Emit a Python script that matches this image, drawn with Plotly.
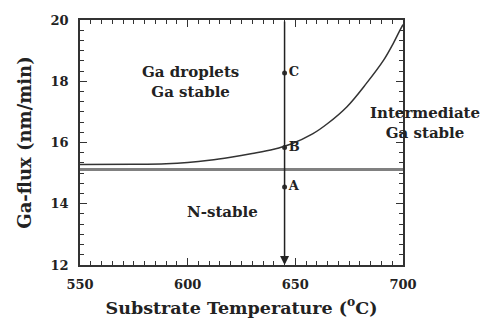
import plotly.graph_objects as go

# Boundary curve (Ga droplets / intermediate)
curve_T = [550, 575, 590, 600, 610, 620, 630, 640, 648, 658, 665, 674, 683, 691, 695.5, 698.6, 700]
curve_flux = [15.28, 15.29, 15.31, 15.35, 15.42, 15.52, 15.64, 15.78, 15.95, 16.28, 16.62, 17.17, 17.93, 18.69, 19.24, 19.67, 19.85]

# N-stable boundary (horizontal)
hline_T = [550, 700]
hline_flux = [15.12, 15.12]

# Sample points
pt_labels = ["A", "B", "C"]
pt_T = [645, 645, 645]
pt_flux = [14.55, 15.84, 18.27]

arrow_T = 645
arrow_top = 20
arrow_bottom = 12

region_labels = ["Ga droplets<br>Ga stable", "Intermediate<br>Ga stable", "N-stable"]
region_T = [601.5, 710, 616]
region_flux = [17.96, 16.63, 13.72]

x_ticks = [550, 600, 650, 700]
y_ticks = [12, 14, 16, 18, 20]

X_RANGE = [550, 700]
Y_RANGE = [12, 20]

FONT = "DejaVu Serif"

fig = go.Figure()
fig.add_trace(go.Scatter(x=hline_T, y=hline_flux, mode="lines",
                         line=dict(color="#808080", width=3), showlegend=False))
fig.add_trace(go.Scatter(x=curve_T, y=curve_flux, mode="lines",
                         line=dict(color="#333333", width=1.5, shape="spline"), showlegend=False))
fig.add_trace(go.Scatter(x=pt_T, y=pt_flux, mode="markers+text", text=pt_labels,
                         textposition="middle right",
                         textfont=dict(family=FONT, size=13, color="#222", weight="bold"),
                         marker=dict(color="#333", size=5), showlegend=False))

fig.add_annotation(x=arrow_T, y=arrow_bottom, ax=arrow_T, ay=arrow_top,
                   xref="x", yref="y", axref="x", ayref="y",
                   showarrow=True, arrowhead=2, arrowsize=1.2, arrowwidth=1.5,
                   arrowcolor="#222", text="")

for t, x, y in zip(region_labels, region_T, region_flux):
    # position in paper coordinates so labels extending past the axes stay visible
    px = (x - X_RANGE[0]) / (X_RANGE[1] - X_RANGE[0])
    py = (y - Y_RANGE[0]) / (Y_RANGE[1] - Y_RANGE[0])
    fig.add_annotation(x=px, y=py, xref="paper", yref="paper", text="<b>" + t + "</b>",
                       xanchor="center", yanchor="middle",
                       showarrow=False, align="center",
                       font=dict(family=FONT, size=15, color="#222"))

axis_common = dict(showgrid=False, zeroline=False, showline=True, linecolor="#333",
                   linewidth=1.5, mirror="allticks", ticks="inside", ticklen=7,
                   tickcolor="#333", tickwidth=1.2, ticklabelstandoff=7,
                   tickfont=dict(family=FONT, size=13, color="#222", weight="bold"))

fig.update_xaxes(range=X_RANGE, tickvals=x_ticks, ticktext=[str(v) for v in x_ticks],
                 minor=dict(dtick=5, ticklen=4, ticks="inside", tickcolor="#333"),
                 title=dict(text="<b>Substrate Temperature (<sup>o</sup>C)</b>",
                            font=dict(family=FONT, size=17.5, color="#222"), standoff=10),
                 **axis_common)
fig.update_yaxes(range=Y_RANGE, tickvals=y_ticks, ticktext=[str(v) for v in y_ticks],
                 minor=dict(tick0=12, dtick=1/3, ticklen=4, ticks="inside", tickcolor="#333"),
                 title=dict(text="<b>Ga-flux (nm/min)</b>",
                            font=dict(family=FONT, size=18, color="#222"), standoff=14),
                 **axis_common)

fig.update_layout(width=496, height=330, margin=dict(l=80, r=93, t=20, b=65),
                  plot_bgcolor="white", paper_bgcolor="white")

fig.write_html("out.html")
